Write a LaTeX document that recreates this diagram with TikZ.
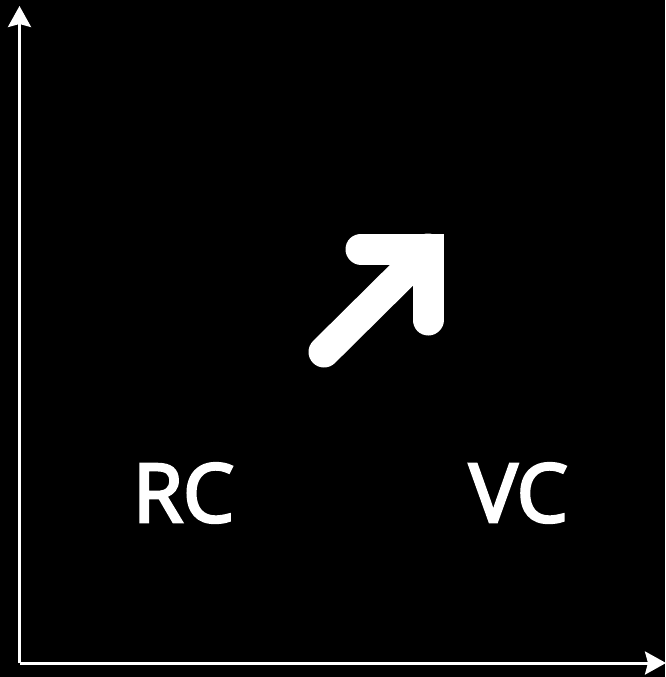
\documentclass[tikz,border=0pt]{standalone}
\usepackage{fontspec}
\setmainfont{Open Sans}
\newfontfamily\lblfont{Open Sans}[FakeBold=3.5]
\usetikzlibrary{arrows.meta}
\begin{document}
\begin{tikzpicture}[x=1pt,y=-1pt,
  axis/.style={draw=white,line width=3pt,-{Stealth[length=21pt,width=23pt,inset=3pt]}},
  bigarrow/.style={draw=white,line width=31pt,line cap=round,line join=miter},
  lbl/.style={text=white,font=\fontsize{81}{81}\lblfont,inner sep=0pt}]
\fill[black] (0,0) rectangle (665,677);
\useasboundingbox (0,0) rectangle (665,677);
\coordinate (origin) at (19.5,663);
\coordinate (ytop) at (19.5,6);
\coordinate (xend) at (666,663);
\draw[axis] (origin) -- (ytop);
\draw[axis] (origin) -- (xend);
\coordinate (tail) at (324,352);
\coordinate (corner) at (428,249);
\coordinate (harm) at (361,249);
\coordinate (varm) at (428,320);
\draw[bigarrow] (tail) -- (corner);
\draw[bigarrow] (harm) -- (corner) -- (varm);
\node[lbl] (rc) at (183.5,493) {RC};
\node[lbl] (vc) at (518.5,493) {VC};
\end{tikzpicture}
\end{document}
